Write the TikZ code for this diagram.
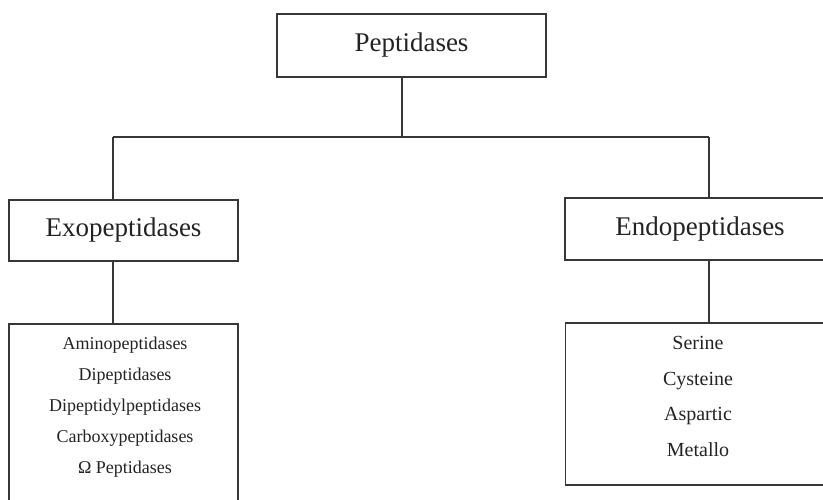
\documentclass[tikz,border=0pt]{standalone}
\usepackage{fontspec}
\setmainfont{Liberation Serif}
\usepackage{tikz}
\usetikzlibrary{positioning, calc}
\definecolor{ink}{RGB}{55,55,55}
\definecolor{textink}{RGB}{35,35,35}

\begin{document}
\begin{tikzpicture}[x=1pt, y=-1pt,
    box/.style={rectangle, draw=ink, line width=1.8pt, inner sep=0pt, text=textink,
                font=\fontsize{27pt}{32pt}\selectfont},
    listbox/.style={rectangle, draw=ink, line width=1.8pt, inner sep=0pt, anchor=north},
    listtext/.style={align=center, text=textink, inner sep=0pt},
    link/.style={draw=ink, line width=1.8pt}
]
\useasboundingbox (0,0) rectangle (823,500);
\node[box, minimum width=269pt, minimum height=63pt] (pep) at (411.5,45.5) {Peptidases};
\node[box, minimum width=229pt, minimum height=61pt] (exo) at (123.5,230.5) {Exopeptidases};
\node[box, minimum width=270pt, minimum height=62pt] (endo) at (700,229) {Endopeptidases};
\node[listbox, minimum width=229pt, minimum height=200pt] (exobox) at (123.5,323) {};
\node[listbox, minimum width=270pt, minimum height=162pt] (endobox) at (700.5,322) {};
\node[listtext, font=\fontsize{18pt}{31pt}\selectfont] (exolist) at (125,407)
    {Aminopeptidases\\Dipeptidases\\Dipeptidylpeptidases\\Carboxypeptidases\\Ω Peptidases};
\node[listtext, font=\fontsize{20pt}{35.7pt}\selectfont] (endolist) at (698,396.5)
    {Serine\\Cysteine\\Aspartic\\Metallo};

% tree links
\coordinate (split) at (402,137);
\coordinate (lft) at (113,137);
\coordinate (rgt) at (709,137);
\draw[link] (pep.south -| split) -- (split);
\draw[link] (lft) -- (rgt);
\draw[link] (lft) -- (lft |- exo.north);
\draw[link] (rgt) -- (rgt |- endo.north);
\draw[link] (lft |- exo.south) -- (lft |- exobox.north);
\draw[link] (rgt |- endo.south) -- (rgt |- endobox.north);
\end{tikzpicture}
\end{document}
